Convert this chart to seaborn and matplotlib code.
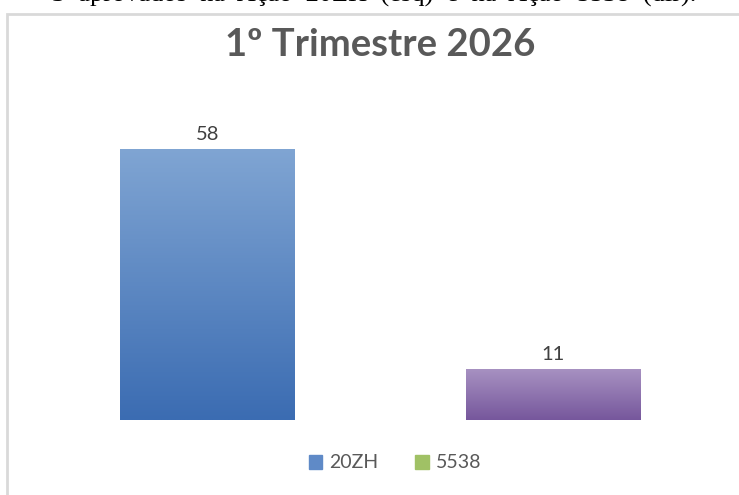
import numpy as np
import pandas as pd
import matplotlib
matplotlib.use("Agg")
import matplotlib.pyplot as plt
import matplotlib.patches as mpatches
import seaborn as sns

# data
categories = ["20ZH", "5538"]
values = [58, 11]
title = "1º Trimestre 2026"
caption_words = ["3", "aprovados", "na", "Ação", "20ZH", "(esq)", "e", "na", "Ação", "5538", "(dir)."]

# gradient colours (top, bottom) per bar, and legend swatches
grad_colors = [("#80a5d3", "#3b6cb2"), ("#a892c2", "#76579c")]
legend_colors = ["#5f8ac7", "#a0c165"]

df = pd.DataFrame({"acao": categories, "qtd": values})

sns.set_theme(style="white")
plt.rcParams["font.family"] = ["Lato", "DejaVu Sans"]

fig = plt.figure(figsize=(7.39, 4.95), dpi=100)
ax = fig.add_axes([35 / 739, 75 / 495, 691 / 739, 327.6 / 495])

sns.barplot(data=df, x="acao", y="qtd", hue="acao", palette=["#4f81bd", "#8064a2"],
            width=0.506, legend=False, ax=ax)

# replace flat fill by vertical gradient
for patch, (top, bot) in zip(ax.patches, grad_colors):
    x0, y0 = patch.get_x(), patch.get_y()
    w, h = patch.get_width(), patch.get_height()
    c_top = np.array(matplotlib.colors.to_rgb(top))
    c_bot = np.array(matplotlib.colors.to_rgb(bot))
    t = np.linspace(0, 1, 256)[:, None, None]
    img = c_top * (1 - t) + c_bot * t
    im = ax.imshow(img, extent=[x0, x0 + w, y0, y0 + h], aspect="auto",
                   origin="upper", zorder=2, interpolation="bilinear")
    im.set_clip_path(patch)
    patch.set_facecolor("none")
    patch.set_edgecolor("none")
    ax.text(x0 + w / 2, y0 + h + 1.2, str(int(h)), ha="center", va="bottom",
            fontsize=14.5, color="#404040")

ax.set_xlim(-0.5, 1.5)
ax.set_ylim(0, 70)
ax.set_axis_off()

# chart title
fig.text(380 / 739, 1 - 45 / 495, title, ha="center", va="center",
         fontsize=27.5, fontweight="bold", color="#595959")

# legend
handles = [mpatches.Patch(color=c, label=l) for c, l in zip(legend_colors, categories)]
fig.legend(handles=handles, loc="center", bbox_to_anchor=(395 / 739, 1 - 463 / 495),
           ncol=2, frameon=False, fontsize=14, handlelength=0.7, handleheight=0.7,
           handletextpad=0.35, columnspacing=1.9, labelcolor="#595959")

# chart border (light gray frame, running off right and bottom)
fig.patches.append(mpatches.Rectangle((7 / 739, -0.1), 1.0, 1 - 14 / 495 + 0.1,
                                      transform=fig.transFigure, fill=False,
                                      edgecolor="#d9d9d9", linewidth=2))

# cut-off (justified) caption line from the document above: only its lower edge is in view
fig.text(52 / 739, 1 - 1.5 / 495, "  ".join(caption_words), ha="left", va="baseline",
         fontsize=19, family="Liberation Serif", color="black")

plt.savefig("out.png", dpi=100)
